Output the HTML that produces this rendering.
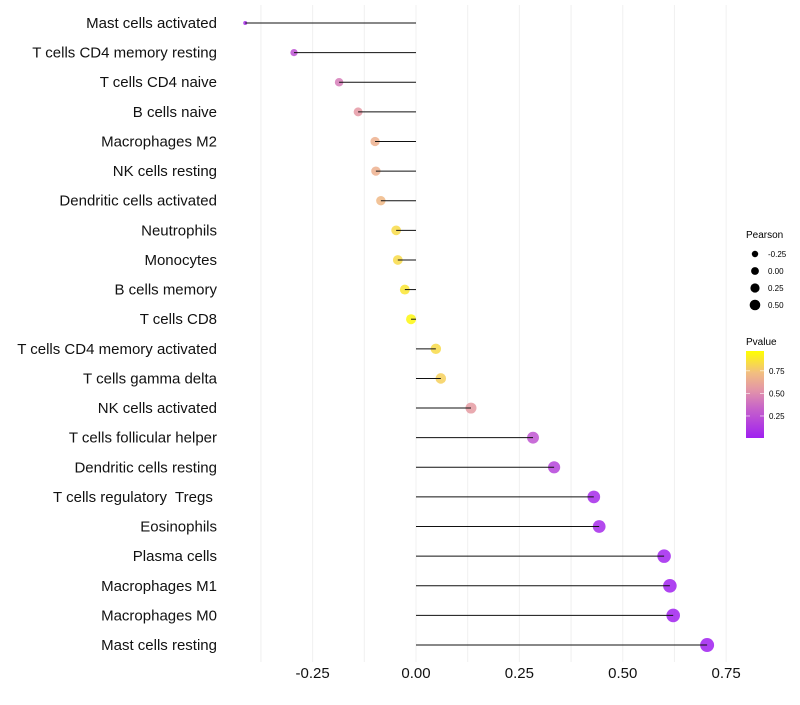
<!DOCTYPE html>
<html><head><meta charset="utf-8"><style>
body{margin:0;background:#fff;font-family:"Liberation Sans",sans-serif}
svg text{font-family:"Liberation Sans",sans-serif;white-space:pre}
</style></head><body>
<svg id="chart" width="800" height="700" xmlns="http://www.w3.org/2000/svg">
<defs><linearGradient id="pg" x1="0" y1="1" x2="0" y2="0">
<stop offset="0" stop-color="#A020F0"/><stop offset="0.35" stop-color="#C865C8"/><stop offset="0.55" stop-color="#E395A8"/><stop offset="0.75" stop-color="#F2BE80"/><stop offset="1" stop-color="#FFFF00"/></linearGradient></defs>
<g id="grid"></g><g id="marks"></g><g id="ylabels"></g><g id="xticks"></g>
<g>
<text x="746" y="238" font-size="10">Pearson</text>
<g id="sizeleg"></g></g>
<g>
<text x="746" y="345" font-size="10">Pvalue</text>
<rect x="746" y="351" width="18" height="87" fill="url(#pg)"/>
<g id="colleg"></g></g>
</svg>
<script>
const categories=["Mast cells activated","T cells CD4 memory resting","T cells CD4 naive","B cells naive","Macrophages M2","NK cells resting","Dendritic cells activated","Neutrophils","Monocytes","B cells memory","T cells CD8","T cells CD4 memory activated","T cells gamma delta","NK cells activated","T cells follicular helper","Dendritic cells resting","T cells regulatory  Tregs ","Eosinophils","Plasma cells","Macrophages M1","Macrophages M0","Mast cells resting"];
const pearson=[-0.413,-0.295,-0.186,-0.14,-0.099,-0.097,-0.085,-0.048,-0.044,-0.027,-0.012,0.048,0.06,0.133,0.283,0.334,0.43,0.443,0.6,0.614,0.622,0.704];
const pvalues=[0.06,0.25,0.45,0.57,0.68,0.68,0.72,0.86,0.86,0.9,0.97,0.86,0.82,0.58,0.27,0.18,0.05,0.05,0.02,0.01,0.01,0.0];
const xTicks=[-0.25,0,0.25,0.5,0.75];
const xTickLabels=["-0.25","0.00","0.25","0.50","0.75"];
const sizeLegVals=[-0.25,0,0.25,0.5];
const colLegVals=[0.75,0.5,0.25];
const NS="http://www.w3.org/2000/svg";
const X=v=>416+v*413.5;
const Y=i=>23+i*29.62;
const R=v=>2+5*Math.sqrt(Math.max(0,(v+0.413)/1.117));
const PY=p=>438-(p-0.006)*(87/0.964);
const stops=[[0,[160,32,240]],[0.35,[200,101,200]],[0.55,[227,149,168]],[0.75,[242,190,128]],[1,[255,255,0]]];
function col(p){for(let k=1;k<stops.length;k++){if(p<=stops[k][0]){const a=stops[k-1],b=stops[k],t=(p-a[0])/(b[0]-a[0]);return "rgb("+a[1].map((c,j)=>Math.round(c+(b[1][j]-c)*t)).join(",")+")";}}return "rgb(255,255,0)";}
function mk(t,a,p){const e=document.createElementNS(NS,t);for(const k in a)e.setAttribute(k,a[k]);p.appendChild(e);return e;}
const g=document.getElementById('grid'),m=document.getElementById('marks'),yl=document.getElementById('ylabels'),xt=document.getElementById('xticks');
for(let v=-0.375;v<=0.76;v+=0.125){const l=mk('line',{x1:X(v),x2:X(v),y1:5,y2:662,stroke:'#f0f0f0','stroke-width':1},g);

}
xTicks.forEach((v,i)=>{const t=mk('text',{x:X(v),y:678,'font-size':15,'text-anchor':'middle',fill:'#111'},xt);t.textContent=xTickLabels[i];

});
categories.forEach((c,i)=>{const y=Y(i);
const t=mk('text',{x:217,y:y+5,'font-size':15,'text-anchor':'end',fill:'#111'},yl);t.textContent=c;


const pt=mk('circle',{cx:X(pearson[i]),cy:y,r:R(pearson[i]),fill:col(pvalues[i]),'fill-opacity':0.85},m);


const s=mk('line',{x1:X(0),x2:X(pearson[i]),y1:y,y2:y,stroke:'#111','stroke-width':1},m);

});
const sl=document.getElementById('sizeleg');
const legR=[3.2,3.9,4.6,5.3];
sizeLegVals.forEach((v,i)=>{const y=254+i*17;const c=mk('circle',{cx:755,cy:y,r:legR[i],fill:'#000'},sl);


const t=mk('text',{x:768,y:y+3,'font-size':8},sl);t.textContent=v.toFixed(2);

});
const cl=document.getElementById('colleg');
colLegVals.forEach(v=>{const y=PY(v);const t=mk('text',{x:769,y:y+3,'font-size':8},cl);t.textContent=v.toFixed(2);


mk('line',{x1:746,x2:750,y1:y,y2:y,stroke:'#fff','stroke-width':0.6},cl);mk('line',{x1:760,x2:764,y1:y,y2:y,stroke:'#fff','stroke-width':0.6},cl);});
</script>
</body></html>
